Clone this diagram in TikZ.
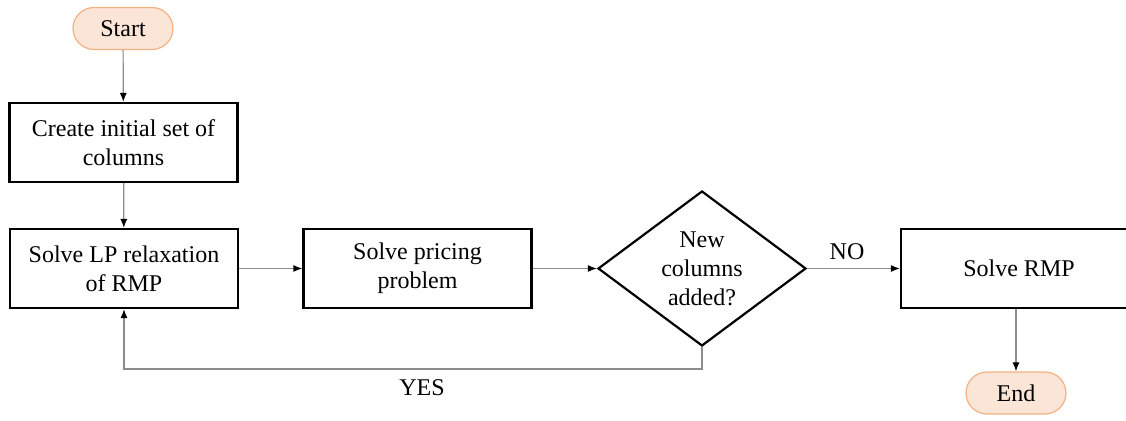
\documentclass[tikz,border=0pt]{standalone}
\usepackage{fontspec}
\setmainfont{Liberation Serif}
\usepackage{xcolor}
\usetikzlibrary{shapes.geometric}
\usetikzlibrary{arrows.meta}
\definecolor{term-fill}{RGB}{251, 229, 214}
\definecolor{term-draw}{RGB}{244, 177, 131}
\definecolor{link-gray}{RGB}{140, 140, 140}

\begin{document}
\begin{tikzpicture}[x=0.5pt, y=0.5pt,
    every node/.style={font=\fontsize{12pt}{14.5pt}\selectfont, align=center},
    term/.style={draw=term-draw, fill=term-fill, line width=0.6pt, rounded corners=10.5pt,
        minimum width=50pt, minimum height=21pt, inner sep=0pt},
    procbox/.style={draw=black, line width=1.1pt, minimum width=114pt, minimum height=39.5pt, inner sep=0pt},
    decbox/.style={draw=black, line width=1.1pt, diamond, aspect=1.34, minimum width=104pt, minimum height=77.5pt, inner sep=0pt},
    link/.style={draw=link-gray, line width=0.6pt, -{Latex[length=4.5pt, width=3.5pt, color=black]}}]
\useasboundingbox (0,0) rectangle (1126,421);

\node[term] (start) at (123,392.5) {Start};
\node[procbox] (create) at (123.5,278.5) {Create initial set of\\columns};
\node[procbox] (lp) at (124,152.5) {Solve LP relaxation\\of RMP};
\node[procbox] (pricing) at (417.5,152.5) {Solve pricing\\problem};
\node[decbox] (newcols) at (702,152.5) {New\\columns\\added?};
\node[procbox, minimum width=118pt] (rmp) at (1019,152.5) {Solve RMP};
\node[term] (end) at (1016,28) {End};

\node (no) at (847,169) {NO};
\node (yes) at (422,33) {YES};
\coordinate (loop) at (702,52);

\draw[link] (start) -- (create);
\draw[link] (create) -- (lp);
\draw[link] (lp) -- (pricing);
\draw[link] (pricing) -- (newcols);
\draw[link] (newcols) -- (rmp);
\draw[link] (newcols.south) -- (loop) -| (lp.south);
\draw[link] (end.north |- rmp.south) -- (end.north);
\end{tikzpicture}
\end{document}
